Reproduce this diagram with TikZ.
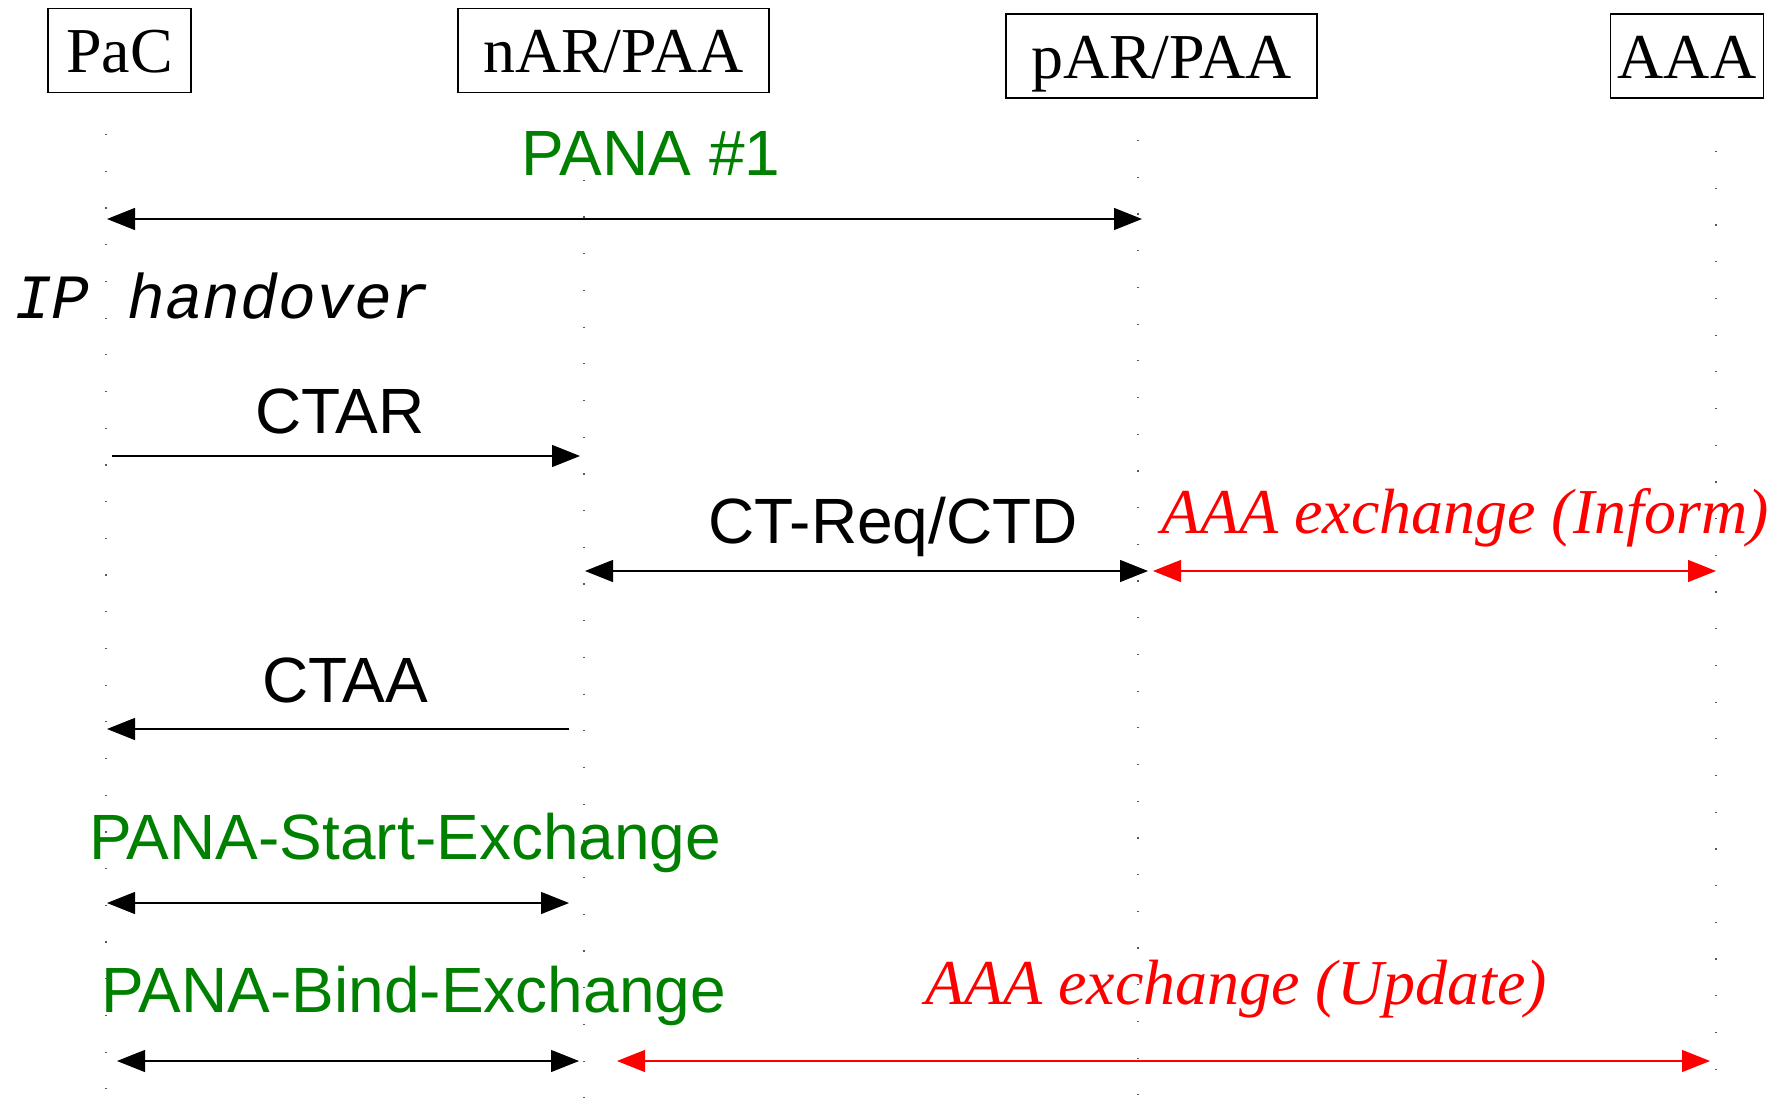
\documentclass[tikz,border=0pt]{standalone}
\usepackage{fontspec}
\setmainfont{Liberation Serif}
\setsansfont{Liberation Sans}
\setmonofont{Liberation Mono}
\usetikzlibrary{arrows.meta}

\definecolor{panagreen}{RGB}{0,128,0}

\begin{document}
\begin{tikzpicture}[
    x=0.5pt, y=-0.5pt,
    every node/.append style={inner sep=0pt, outer sep=0pt},
    entity/.style={draw, line width=0.6pt, minimum height=42pt,
      font=\fontsize{32}{38}\selectfont, text height=23pt, text depth=1pt},
    lifeline/.style={black!65, line width=0.6pt, dash pattern=on 0.6pt off 17.75pt},
    msg/.style={line width=0.6pt, -{Triangle[length=14pt, width=11pt]}},
    both/.style={line width=0.6pt, {Triangle[length=14pt, width=11pt]}-{Triangle[length=14pt, width=11pt]}},
    aaamsg/.style={both, red},
    msglabel/.style={font=\sffamily\fontsize{32}{38}\selectfont},
    panalabel/.style={msglabel, text=panagreen},
    aaalabel/.style={font=\itshape\fontsize{32}{38}\selectfont, text=red},
  ]
  \useasboundingbox (0,0) rectangle (1778,1098);

  % entities
  \node[entity, minimum width=71.5pt] (pac) at (119.5,50.5) {PaC};
  \node[entity, minimum width=155.5pt] (nar) at (613.5,50.5) {nAR/PAA};
  \node[entity, minimum width=155.5pt] (par) at (1161.5,56) {pAR/PAA};
  \node[entity, minimum width=76.5pt] (aaa) at (1687,56) {AAA};

  % lifelines
  \coordinate (pac top) at (106,134);
  \coordinate (pac bot) at (106,1098);
  \coordinate (nar top) at (584,143);
  \coordinate (nar bot) at (584,1098);
  \coordinate (par top) at (1138,140);
  \coordinate (par bot) at (1138,1098);
  \coordinate (aaa top) at (1716,151);
  \coordinate (aaa bot) at (1716,1098);
  \draw[lifeline] (pac top) -- (pac bot);
  \draw[lifeline] (nar top) -- (nar bot);
  \draw[lifeline] (par top) -- (par bot);
  \draw[lifeline] (aaa top) -- (aaa bot);

  % PANA #1
  \node[panalabel, anchor=base] (pana1) at (651,175) {PANA \#1};
  \coordinate (pana1 l) at (107,219);
  \coordinate (pana1 r) at (1142,219);
  \draw[both] (pana1 l) -- (pana1 r);

  \node[anchor=base west, font=\ttfamily\itshape\fontsize{31.5}{38}\selectfont]
    (handover) at (14,318) {IP handover};

  % CTAR
  \node[msglabel, anchor=base] (ctar) at (340,433) {CTAR};
  \coordinate (ctar l) at (112,456);
  \coordinate (ctar r) at (580,456);
  \draw[msg] (ctar l) -- (ctar r);

  % CT-Req/CTD and AAA inform
  \node[msglabel, anchor=base west] (ctreq) at (708,543) {CT-Req/CTD};
  \coordinate (ctreq l) at (585,571);
  \coordinate (ctreq r) at (1148,571);
  \draw[both] (ctreq l) -- (ctreq r);
  \node[aaalabel, anchor=base west] (inform) at (1161,533) {AAA exchange (Inform)};
  \coordinate (inform l) at (1153,571);
  \coordinate (inform r) at (1716,571);
  \draw[aaamsg] (inform l) -- (inform r);

  % CTAA
  \node[msglabel, anchor=base] (ctaa) at (345,702) {CTAA};
  \coordinate (ctaa r) at (569,729);
  \coordinate (ctaa l) at (107,729);
  \draw[msg] (ctaa r) -- (ctaa l);

  % PANA start and bind
  \node[panalabel, anchor=base west] (start) at (89,859) {PANA-Start-Exchange};
  \coordinate (start l) at (107,903);
  \coordinate (start r) at (569,903);
  \draw[both] (start l) -- (start r);
  \node[panalabel, anchor=base west] (bind) at (101,1012) {PANA-Bind-Exchange};
  \coordinate (bind l) at (117,1061);
  \coordinate (bind r) at (579,1061);
  \draw[both] (bind l) -- (bind r);
  \node[aaalabel, anchor=base west] (update) at (925,1004) {AAA exchange (Update)};
  \coordinate (update l) at (617,1061);
  \coordinate (update r) at (1710,1061);
  \draw[aaamsg] (update l) -- (update r);
\end{tikzpicture}
\end{document}
